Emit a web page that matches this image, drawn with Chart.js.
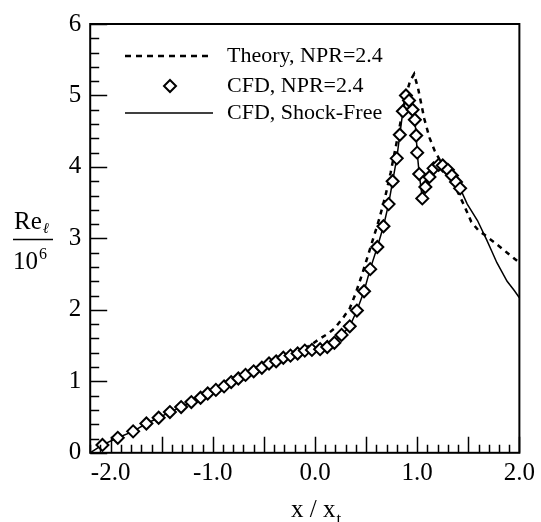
<!DOCTYPE html>
<html>
<head>
<meta charset="utf-8">
<script src="https://cdn.jsdelivr.net/npm/chart.js@4.4.1/dist/chart.umd.min.js"></script>
<style>
  html, body { margin: 0; padding: 0; background: #fff; }
  #wrap { width: 541px; height: 522px; position: relative; }
</style>
</head>
<body>
<div id="wrap"><canvas id="chart"></canvas></div>
<script>
// CFD, NPR=2.4 (diamonds)
const cfdX = [-2.08, -1.93, -1.78, -1.65, -1.53, -1.42, -1.31, -1.21, -1.12, -1.05,
  -0.97, -0.89, -0.82, -0.75, -0.68, -0.60, -0.52, -0.45, -0.38, -0.31,
  -0.24, -0.17, -0.10, -0.03, 0.05, 0.12, 0.19, 0.26, 0.34, 0.41,
  0.48, 0.54, 0.61, 0.67, 0.72, 0.76, 0.80, 0.83, 0.86, 0.89,
  0.92, 0.955, 0.977, 0.99, 1.00, 1.02, 1.05, 1.08, 1.12, 1.16,
  1.21, 1.25, 1.30, 1.34, 1.38, 1.42];
const cfdY = [0.11, 0.21, 0.30, 0.41, 0.49, 0.57, 0.64, 0.71, 0.77, 0.83,
  0.88, 0.93, 0.99, 1.04, 1.09, 1.14, 1.19, 1.25, 1.28, 1.33,
  1.36, 1.39, 1.43, 1.44, 1.45, 1.48, 1.54, 1.65, 1.77, 1.99,
  2.26, 2.57, 2.88, 3.17, 3.48, 3.80, 4.12, 4.45, 4.78, 5.00,
  4.93, 4.80, 4.66, 4.44, 4.20, 3.90, 3.56, 3.72, 3.86, 3.98,
  4.03, 4.02, 3.96, 3.88, 3.79, 3.70];

// Theory, NPR=2.4 (dashed)
const theoryX = [-0.10, -0.02, 0.05, 0.13, 0.19, 0.27, 0.34, 0.40, 0.45, 0.51,
  0.57, 0.63, 0.69, 0.74, 0.79, 0.84, 0.89, 0.93, 0.97, 1.01,
  1.04, 1.07, 1.12, 1.17, 1.22, 1.27, 1.31, 1.40, 1.46, 1.53,
  1.60, 1.65, 1.75, 1.88, 2.00];
const theoryY = [1.46, 1.53, 1.60, 1.67, 1.74, 1.88, 2.02, 2.24, 2.45, 2.72,
  3.00, 3.28, 3.60, 3.92, 4.28, 4.65, 5.00, 5.20, 5.30, 5.09,
  4.88, 4.67, 4.41, 4.23, 4.10, 4.02, 3.92, 3.64, 3.46, 3.23,
  3.11, 3.06, 2.95, 2.80, 2.66];

// CFD, Shock-Free (solid): runs through the diamonds, plus these ends
const shockFreeHeadX = [-2.2];
const shockFreeHeadY = [0.0];
const shockFreeTailX = [1.49, 1.59, 1.68, 1.73, 1.78, 1.88, 1.95, 2.00];
const shockFreeTailY = [3.48, 3.25, 2.98, 2.82, 2.66, 2.40, 2.27, 2.17];

const xTickValues = [-2, -1, 0, 1, 2];
const yTickValues = [0, 1, 2, 3, 4, 5, 6];

const legendLabels = ["Theory, NPR=2.4", "CFD, NPR=2.4", "CFD, Shock-Free"];

const pts = (xs, ys) => xs.map((x, i) => ({ x: x, y: ys[i] }));
const serif = '"Liberation Serif", "Times New Roman", serif';

const decor = {
  id: "decor",
  afterDraw(chart) {
    const { ctx, chartArea: a, scales } = chart;
    const xs = scales.x, ys = scales.y;
    ctx.save();
    ctx.strokeStyle = "#000";
    ctx.fillStyle = "#000";

    // inward ticks
    ctx.lineWidth = 1.5;
    ctx.beginPath();
    for (let i = -22; i <= 20; i++) {
      const px = Math.round(xs.getPixelForValue(i / 10)) + 0.5;
      const len = i % 5 === 0 ? 16 : 8;
      ctx.moveTo(px, a.bottom);
      ctx.lineTo(px, a.bottom - len);
    }
    for (let i = 0; i <= 30; i++) {
      const py = Math.round(ys.getPixelForValue(i / 5)) + 0.5;
      const len = i % 5 === 0 ? 17 : 9;
      ctx.moveTo(a.left, py);
      ctx.lineTo(a.left + len, py);
    }
    ctx.stroke();

    // frame
    ctx.lineWidth = 2;
    ctx.strokeRect(a.left, a.top, a.right - a.left, a.bottom - a.top);

    // legend
    ctx.font = "22px " + serif;
    ctx.textBaseline = "middle";
    ctx.textAlign = "left";
    const rows = [56, 86, 113];
    ctx.lineWidth = 2.5;
    ctx.setLineDash([6, 5]);
    ctx.beginPath();
    ctx.moveTo(125, rows[0]);
    ctx.lineTo(213, rows[0]);
    ctx.stroke();
    ctx.setLineDash([]);
    ctx.lineWidth = 2;
    ctx.beginPath();
    const r = 6, cx = 170, cy = rows[1];
    ctx.moveTo(cx, cy - r);
    ctx.lineTo(cx + r, cy);
    ctx.lineTo(cx, cy + r);
    ctx.lineTo(cx - r, cy);
    ctx.closePath();
    ctx.stroke();
    ctx.lineWidth = 1.5;
    ctx.beginPath();
    ctx.moveTo(125, rows[2]);
    ctx.lineTo(213, rows[2]);
    ctx.stroke();
    legendLabels.forEach((t, i) => ctx.fillText(t, 227, rows[i]));

    // y title: Re_l / 10^6
    ctx.textBaseline = "alphabetic";
    ctx.font = "25px " + serif;
    ctx.fillText("Re", 14, 229);
    let w = ctx.measureText("Re").width;
    ctx.font = "italic 15px " + serif;
    ctx.fillText("\u2113", 14 + w + 1, 233);
    ctx.lineWidth = 1.5;
    ctx.beginPath();
    ctx.moveTo(13, 239.5);
    ctx.lineTo(53, 239.5);
    ctx.stroke();
    ctx.font = "25px " + serif;
    ctx.fillText("10", 13, 269);
    w = ctx.measureText("10").width;
    ctx.font = "16px " + serif;
    ctx.fillText("6", 13 + w + 1, 259);

    // x title: x / x_t
    ctx.font = "25px " + serif;
    ctx.fillText("x / x", 291, 517);
    w = ctx.measureText("x / x").width;
    ctx.font = "17px " + serif;
    ctx.fillText("t", 291 + w + 1, 524);
    ctx.restore();
  }
};

new Chart(document.getElementById("chart"), {
  type: "scatter",
  data: {
    datasets: [
      {
        label: legendLabels[1],
        data: pts(cfdX, cfdY),
        showLine: false,
        pointStyle: "rectRot",
        pointRadius: 6,
        pointBorderWidth: 2,
        pointBackgroundColor: "#fff",
        pointBorderColor: "#000",
        order: 0,
      },
      {
        label: legendLabels[2],
        data: pts(shockFreeHeadX.concat(cfdX, shockFreeTailX), shockFreeHeadY.concat(cfdY, shockFreeTailY)),
        showLine: true,
        borderColor: "#000",
        borderWidth: 1.5,
        pointRadius: 0,
        tension: 0,
        order: 1,
      },
      {
        label: legendLabels[0],
        data: pts(theoryX, theoryY),
        showLine: true,
        borderColor: "#000",
        borderWidth: 2.5,
        borderDash: [5, 5],
        pointRadius: 0,
        tension: 0,
        order: 2,
      },
    ],
  },
  options: {
    responsive: true,
    maintainAspectRatio: false,
    animation: false,
    layout: { autoPadding: false, padding: { left: 59.7, right: 18.7, top: 20.7, bottom: 27.2 } },
    plugins: { legend: { display: false }, tooltip: { enabled: false } },
    scales: {
      x: {
        type: "linear",
        min: -2.2,
        max: 2.0,
        afterBuildTicks: (s) => { s.ticks = xTickValues.map((v) => ({ value: v })); },
        ticks: {
          color: "#000",
          font: { family: serif, size: 25 },
          padding: 6,
          maxRotation: 0,
          autoSkip: false,
          callback: (v) => Number(v).toFixed(1),
        },
        grid: { display: false, drawTicks: false },
        border: { display: false },
      },
      y: {
        type: "linear",
        min: 0,
        max: 6,
        afterBuildTicks: (s) => { s.ticks = yTickValues.map((v) => ({ value: v })); },
        ticks: {
          color: "#000",
          font: { family: serif, size: 25 },
          padding: 9,
          autoSkip: false,
          callback: (v) => String(v),
        },
        grid: { display: false, drawTicks: false },
        border: { display: false },
      },
    },
  },
  plugins: [decor],
});
</script>
</body>
</html>
